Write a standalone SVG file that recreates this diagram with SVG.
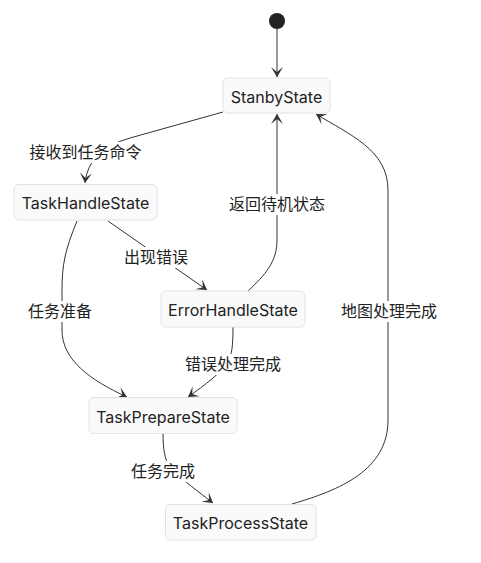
<svg xmlns="http://www.w3.org/2000/svg" width="481" height="563" viewBox="0 0 481 563">
<style>
.node rect{fill:#fafafa;stroke:#e2e2e2;stroke-width:1}
.node text,.lbl text{font-family:Inter,"Noto Sans CJK SC",sans-serif;font-size:16px;fill:#222;text-anchor:middle}
.edge{fill:none;stroke:#333;stroke-width:1;marker-end:url(#barb)}
.lbl rect{fill:#fff}
</style>
<defs>
<marker id="barb" viewBox="0 0 20 14" refX="19" refY="7" markerWidth="20" markerHeight="14" markerUnits="userSpaceOnUse" orient="auto">
<path d="M19,7 L9,13 L14,7 L9,1 Z" fill="#333"/>
</marker>
</defs>
<rect width="481" height="563" fill="#fff"/>
<g id="connectors">
<path class="edge" d="M277,29 L277,77"/>
<path class="edge" d="M223,112 L130,138 Q88,150 85,183"/>
<path class="edge" d="M108,221 L207,290"/>
<path class="edge" d="M77,221 C65,250 62,265 62,290 L62,330 C62,360 90,380 127,397"/>
<path class="edge" d="M233,327 C233,345 232,355 228,362 C222,372 205,385 188,397"/>
<path class="edge" d="M248,291 C265,275 277,262 277,240 L277,114"/>
<path class="edge" d="M163,433 C163,450 165,460 170,468 C180,478 200,493 213,503"/>
<path class="edge" d="M292,504 C340,490 388,470 388,420 L388,190 C388,150 350,135 316,114"/>
<g class="lbl"><rect x="29" y="142" width="113" height="21"/><text x="85.5" y="158">接收到任务命令</text></g>
<g class="lbl"><rect x="124" y="247" width="65" height="21"/><text x="156" y="263">出现错误</text></g>
<g class="lbl"><rect x="28" y="301" width="65" height="21"/><text x="60" y="317">任务准备</text></g>
<g class="lbl"><rect x="185" y="354" width="97" height="21"/><text x="233" y="370">错误处理完成</text></g>
<g class="lbl"><rect x="228" y="194" width="97" height="21"/><text x="277" y="210">返回待机状态</text></g>
<g class="lbl"><rect x="131" y="461" width="65" height="21"/><text x="163" y="477">任务完成</text></g>
<g class="lbl"><rect x="340" y="301" width="97" height="21"/><text x="389" y="317">地图处理完成</text></g>
</g>
<g id="start"><circle cx="277" cy="21" r="8" fill="#222"/></g>
<g id="StanbyState" class="node"><rect x="223" y="78" width="107" height="35" rx="5"/><text x="276.5" y="102.5">StanbyState</text></g>
<g id="TaskHandleState" class="node"><rect x="14" y="184.5" width="143" height="35.5" rx="5"/><text x="85.5" y="209">TaskHandleState</text></g>
<g id="ErrorHandleState" class="node"><rect x="161" y="291" width="144" height="36" rx="5"/><text x="233" y="316">ErrorHandleState</text></g>
<g id="TaskPrepareState" class="node"><rect x="89" y="397.5" width="148" height="36" rx="5"/><text x="163" y="422.5">TaskPrepareState</text></g>
<g id="TaskProcessState" class="node"><rect x="165.5" y="504.5" width="150.5" height="35.5" rx="5"/><text x="240.5" y="529">TaskProcessState</text></g>
</svg>
